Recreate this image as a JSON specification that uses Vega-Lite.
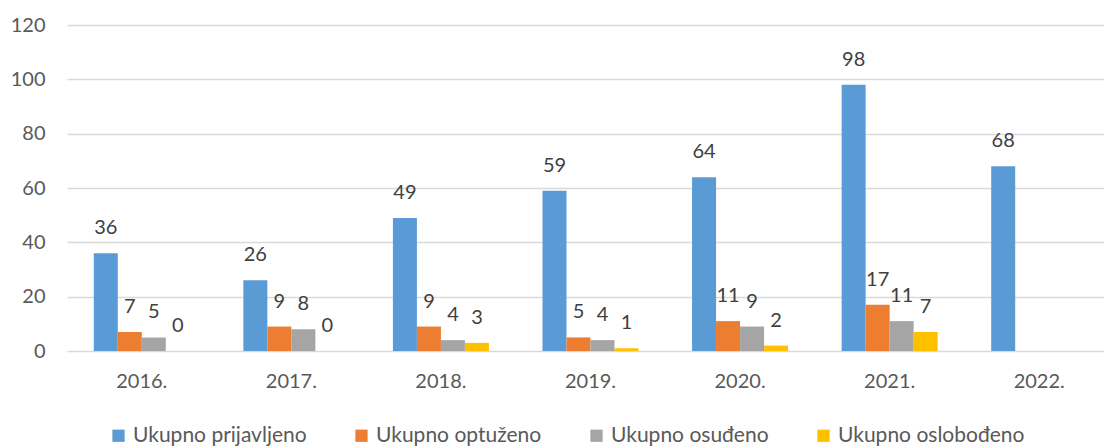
{
  "$schema": "https://vega.github.io/schema/vega-lite/v6.json",
  "autosize": {"type": "none"},
  "width": 1047,
  "height": 326,
  "padding": {"left": 67, "top": 25, "right": 0, "bottom": 95},
  "background": "white",
  "config": {
    "view": {"stroke": null},
    "font": "Lato",
    "axis": {"labelFont": "Lato", "labelColor": "#595959", "labelFontSize": 20},
    "legend": {"labelFont": "Lato", "labelColor": "#595959", "labelFontSize": 21}
  },
  "data": {
    "values": [
      {"year": "2016.", "series": "Ukupno prijavljeno", "value": 36},
      {"year": "2016.", "series": "Ukupno optuženo", "value": 7},
      {"year": "2016.", "series": "Ukupno osuđeno", "value": 5},
      {"year": "2016.", "series": "Ukupno oslobođeno", "value": 0},
      {"year": "2017.", "series": "Ukupno prijavljeno", "value": 26},
      {"year": "2017.", "series": "Ukupno optuženo", "value": 9},
      {"year": "2017.", "series": "Ukupno osuđeno", "value": 8},
      {"year": "2017.", "series": "Ukupno oslobođeno", "value": 0},
      {"year": "2018.", "series": "Ukupno prijavljeno", "value": 49},
      {"year": "2018.", "series": "Ukupno optuženo", "value": 9},
      {"year": "2018.", "series": "Ukupno osuđeno", "value": 4},
      {"year": "2018.", "series": "Ukupno oslobođeno", "value": 3},
      {"year": "2019.", "series": "Ukupno prijavljeno", "value": 59},
      {"year": "2019.", "series": "Ukupno optuženo", "value": 5},
      {"year": "2019.", "series": "Ukupno osuđeno", "value": 4},
      {"year": "2019.", "series": "Ukupno oslobođeno", "value": 1},
      {"year": "2020.", "series": "Ukupno prijavljeno", "value": 64},
      {"year": "2020.", "series": "Ukupno optuženo", "value": 11},
      {"year": "2020.", "series": "Ukupno osuđeno", "value": 9},
      {"year": "2020.", "series": "Ukupno oslobođeno", "value": 2},
      {"year": "2021.", "series": "Ukupno prijavljeno", "value": 98},
      {"year": "2021.", "series": "Ukupno optuženo", "value": 17},
      {"year": "2021.", "series": "Ukupno osuđeno", "value": 11},
      {"year": "2021.", "series": "Ukupno oslobođeno", "value": 7},
      {"year": "2022.", "series": "Ukupno prijavljeno", "value": 68}
    ]
  },
  "encoding": {
    "x": {
      "field": "year", "type": "nominal",
      "scale": {"paddingInner": 0.358, "paddingOuter": 0.179},
      "axis": {"title": null, "domain": false, "ticks": false, "labelAngle": 0, "labelPadding": 20}
    },
    "xOffset": {
      "field": "series", "type": "nominal",
      "scale": {"domain": ["Ukupno prijavljeno", "Ukupno optuženo", "Ukupno osuđeno", "Ukupno oslobođeno"], "paddingInner": 0, "paddingOuter": 0}
    },
    "y": {
      "field": "value", "type": "quantitative",
      "scale": {"domain": [0, 120], "nice": false},
      "axis": {"title": null, "domain": false, "ticks": false, "values": [0, 20, 40, 60, 80, 100, 120], "labelPadding": 22, "gridColor": "#D9D9D9", "gridWidth": 1.3}
    }
  },
  "layer": [
    {
      "mark": {"type": "bar"},
      "encoding": {
        "color": {
          "field": "series", "type": "nominal",
          "scale": {
            "domain": ["Ukupno prijavljeno", "Ukupno optuženo", "Ukupno osuđeno", "Ukupno oslobođeno"],
            "range": ["#5B9BD5", "#ED7D31", "#A5A5A5", "#FFC000"]
          },
          "legend": {
            "title": null, "orient": "none", "direction": "horizontal",
            "legendX": 41, "legendY": 400,
            "symbolType": "square", "symbolSize": 150, "symbolStrokeWidth": 0,
            "labelOffset": 4, "columnPadding": 44, "labelLimit": 400
          }
        }
      }
    },
    {
      "mark": {"type": "text", "baseline": "middle", "dy": -25, "fontSize": 20, "color": "#404040", "font": "Lato"},
      "encoding": {"text": {"field": "value", "type": "quantitative"}}
    }
  ]
}
